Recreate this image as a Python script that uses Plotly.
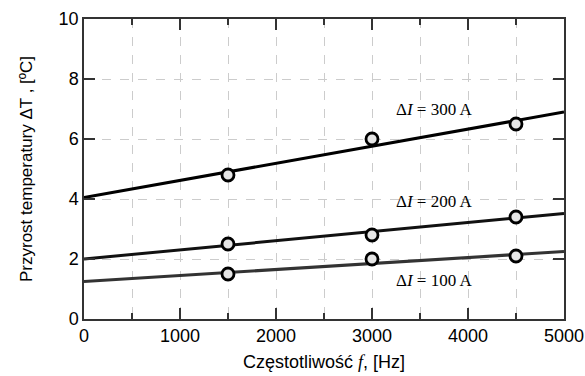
import plotly.graph_objects as go

freq = [1500, 3000, 4500]
dT_300 = [4.8, 6.0, 6.5]
dT_200 = [2.5, 2.8, 3.4]
dT_100 = [1.5, 2.0, 2.1]

fit_x = [0, 5000]
fit_300 = [4.05, 6.9]
fit_200 = [2.0, 3.52]
fit_100 = [1.25, 2.25]

labels = ["ΔI = 300 A", "ΔI = 200 A", "ΔI = 100 A"]
label_x = [3650, 3650, 3650]
label_y = [7.0, 3.93, 1.27]

fig = go.Figure()
for fy, col in [(fit_300, "#000000"), (fit_200, "#111111"), (fit_100, "#333333")]:
    fig.add_trace(go.Scatter(x=fit_x, y=fy, mode="lines",
                             line=dict(color=col, width=3), showlegend=False,
                             hoverinfo="skip"))
for ys in [dT_300, dT_200, dT_100]:
    fig.add_trace(go.Scatter(x=freq, y=ys, mode="markers",
                             marker=dict(size=12, color="#e6e6e6",
                                         line=dict(color="#000000", width=2.8)),
                             showlegend=False))

for t, x, y in zip(labels, label_x, label_y):
    txt = t.replace("I", "<i>I</i>").replace(" A", "\u2009A")
    fig.add_annotation(x=x, y=y, text=txt, showarrow=False,
                       font=dict(family="Liberation Serif", size=17, color="#000"),
                       bgcolor="rgba(0,0,0,0)")

axis_common = dict(showline=True, linecolor="#333333", linewidth=1.5,
                   mirror="ticks", ticks="inside", tickcolor="#333333",
                   ticklen=11, tickwidth=1.5, showgrid=True, gridcolor="#cccccc",
                   griddash="dash", gridwidth=1, zeroline=False, automargin=False,
                   tickfont=dict(family="Liberation Sans", size=18, color="#000"))

fig.update_xaxes(range=[0, 5000], dtick=1000, tick0=0,
                 title=dict(text="Częstotliwość <i><span style='font-family:Liberation Serif'>f</span></i>, [Hz]",
                            font=dict(family="Liberation Sans", size=18, color="#000"),
                            standoff=10),
                 minor=dict(dtick=500, tick0=0, ticks="inside", ticklen=6,
                            tickcolor="#333333", tickwidth=1.5, showgrid=True,
                            gridcolor="#cccccc", griddash="dash", gridwidth=1),
                 **axis_common)
fig.update_yaxes(range=[0, 10], dtick=2, tick0=0,
                 title=dict(text="Przyrost temperatury ΔT , [ºC]",
                            font=dict(family="Liberation Sans", size=17, color="#000"),
                            standoff=22),
                 **axis_common)

fig.update_layout(width=585, height=376, margin=dict(l=84, r=21, t=19, b=57),
                  plot_bgcolor="white", paper_bgcolor="white")
fig.write_html("out.html")
